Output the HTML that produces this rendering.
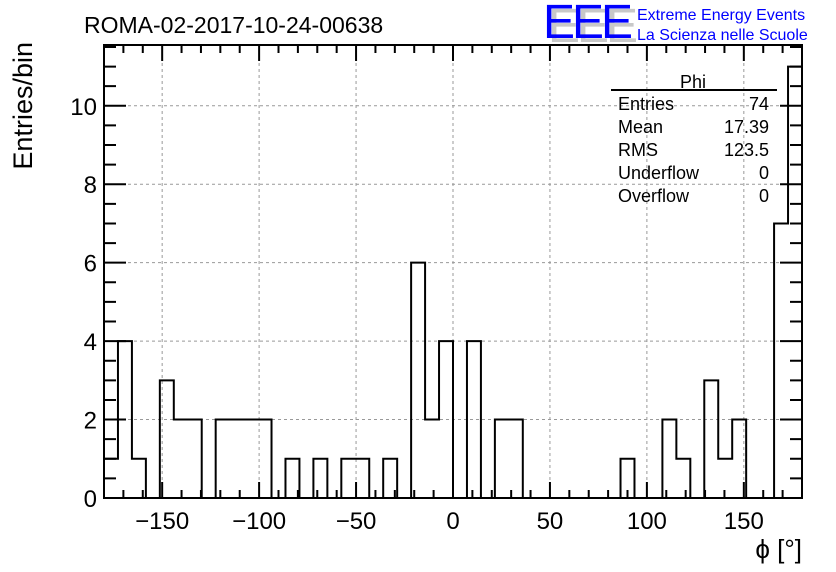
<!DOCTYPE html>
<html><head><meta charset="utf-8"><style>
body{margin:0;background:#fff;}
svg{display:block;font-family:"Liberation Sans",sans-serif;}
</style></head><body>
<svg id="c" width="836" height="572" xmlns="http://www.w3.org/2000/svg">
<text x="84" y="33" font-size="23">ROMA-02-2017-10-24-00638</text>
<g>
<text x="548" y="42" font-size="48" fill="#c8c8c8" letter-spacing="-3">EEE</text>
<text x="543" y="38" font-size="48" fill="#0000ff" letter-spacing="-3">EEE</text>
</g>
<text x="637" y="20" font-size="16" fill="#0000ff">Extreme Energy Events</text>
<text x="637" y="40" font-size="16" fill="#0000ff">La Scienza nelle Scuole</text>
<g id="grid"></g>
<path id="hist" fill="none" stroke="#000" stroke-width="2"/>
<g id="axes"></g>
<text x="32" y="42" font-size="27" transform="rotate(-90 32 42)" text-anchor="end">Entries/bin</text>
<text x="802" y="558" font-size="26" text-anchor="end">ϕ [°]</text>
<g font-size="18">
<text x="693" y="88" text-anchor="middle">Phi</text>
<line x1="611" y1="90" x2="777" y2="90" stroke="#000" stroke-width="2"/>
<text x="618" y="110">Entries</text><text x="769" y="110" text-anchor="end">74</text>
<text x="618" y="133">Mean</text><text x="769" y="133" text-anchor="end">17.39</text>
<text x="618" y="156">RMS</text><text x="769" y="156" text-anchor="end">123.5</text>
<text x="618" y="179">Underflow</text><text x="769" y="179" text-anchor="end">0</text>
<text x="618" y="202">Overflow</text><text x="769" y="202" text-anchor="end">0</text>
</g>
</svg>
<script>
const counts=[1,4,1,0,3,2,2,0,2,2,2,2,0,1,0,1,0,1,1,0,1,0,6,2,4,0,4,0,2,2,0,0,0,0,0,0,0,1,0,0,2,1,0,3,1,2,0,0,7,11];
const xTicks=[-150,-100,-50,0,50,100,150];
const yTicks=[0,2,4,6,8,10];
const xMin=-180,xMax=180,yMin=0,yMax=11.55;
const L=104,R=802,T=45,B=498;
const sx=v=>L+(v-xMin)/(xMax-xMin)*(R-L);
const sy=v=>B-(v-yMin)/(yMax-yMin)*(B-T);
const NS="http://www.w3.org/2000/svg";
function mk(p,tag,a){const e=document.createElementNS(NS,tag);for(const k in a)e.setAttribute(k,a[k]);document.getElementById(p).appendChild(e);return e;}
const bw=(xMax-xMin)/counts.length;
let d="M"+sx(xMin)+","+sy(0);
counts.forEach((c,i)=>{const x0=sx(xMin+i*bw),x1=sx(xMin+(i+1)*bw);d+=" L"+x0+","+sy(c)+" L"+x1+","+sy(c);});
d+=" L"+sx(xMax)+","+sy(0);
document.getElementById('hist').setAttribute('d',d);
xTicks.forEach(v=>{const g=mk('grid','line',{x1:sx(v),x2:sx(v),y1:T,y2:B,stroke:'#999','stroke-dasharray':'3,3','stroke-width':1});

const t=mk('axes','text',{x:sx(v),y:529,'font-size':24,'text-anchor':'middle'});t.textContent=v<0?'\u2212'+(-v):v;
});
yTicks.forEach(v=>{if(v>0){const g=mk('grid','line',{x1:L,x2:R,y1:sy(v),y2:sy(v),stroke:'#999','stroke-dasharray':'3,3','stroke-width':1});
}
const t=mk('axes','text',{x:97,y:sy(v)+9,'font-size':24,'text-anchor':'end'});t.textContent=v;
});
let td="";
for(let v=-180;v<=180;v+=10){const maj=v%50===0;const h=maj?16:8;td+=`M${sx(v)},${B}v${-h}M${sx(v)},${T}v${h}`;}
for(let v=0;v<=11.5;v+=0.5){const maj=v%2===0;const w=maj?22:12;td+=`M${L},${sy(v)}h${w}M${R},${sy(v)}h${-w}`;}
const tp=mk('axes','path',{d:td,stroke:'#000','stroke-width':2,fill:'none'});

const fr=mk('axes','rect',{x:L,y:T,width:R-L,height:B-T,fill:'none',stroke:'#000','stroke-width':2});

</script>
</body></html>
